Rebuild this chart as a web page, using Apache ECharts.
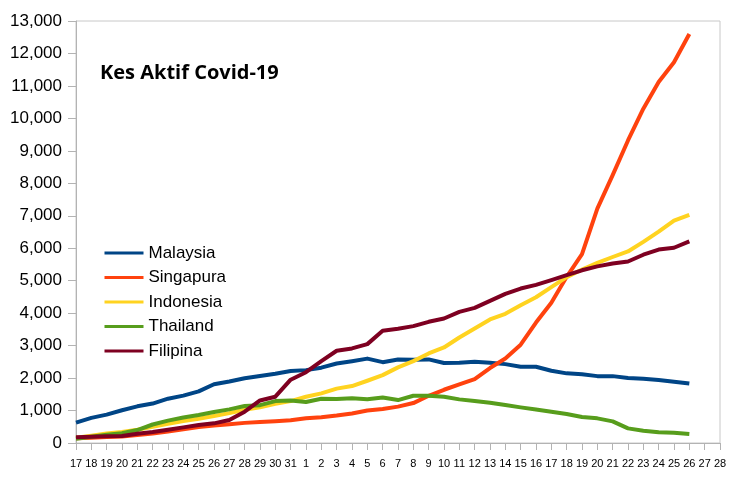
<!DOCTYPE html>
<html>
<head>
<meta charset="utf-8">
<script src="https://cdn.jsdelivr.net/npm/echarts@6/dist/echarts.min.js"></script>
<style>
html,body{margin:0;padding:0;background:#fff;}
#chart{width:745px;height:489px;}
</style>
</head>
<body>
<div id="chart"></div>
<script>
const categories = ['17','18','19','20','21','22','23','24','25','26','27','28','29','30','31',
  '1','2','3','4','5','6','7','8','9','10','11','12','13','14','15','16','17','18','19','20','21','22','23','24','25','26','27','28'];

const malaysia = [630, 775, 875, 1010, 1130, 1215, 1365, 1460, 1590, 1810, 1895, 1995, 2065, 2135, 2220,
  2245, 2320, 2450, 2520, 2600, 2490, 2575, 2565, 2575, 2465, 2470, 2500, 2470, 2430, 2350, 2350, 2225, 2145, 2120, 2060, 2060, 2000, 1980, 1940, 1890, 1830];
const singapura = [150, 165, 185, 200, 245, 290, 355, 420, 490, 540, 575, 620, 650, 670, 700,
  760, 795, 845, 910, 1000, 1045, 1120, 1230, 1455, 1640, 1805, 1970, 2310, 2605, 3030, 3710, 4320, 5120, 5815, 7220, 8250, 9320, 10300, 11120, 11730, 12600];
const indonesia = [160, 220, 290, 340, 410, 500, 590, 680, 750, 830, 920, 1025, 1097, 1210, 1292,
  1426, 1528, 1675, 1754, 1918, 2092, 2330, 2523, 2759, 2943, 3251, 3528, 3805, 3980, 4246, 4490, 4800, 5110, 5344, 5550, 5730, 5900, 6195, 6510, 6850, 7030];
const thailand = [130, 195, 255, 300, 400, 570, 690, 785, 860, 954, 1036, 1138, 1165, 1292, 1308,
  1265, 1364, 1354, 1375, 1350, 1400, 1323, 1456, 1456, 1426, 1344, 1292, 1241, 1169, 1097, 1030, 960, 892, 800, 759, 667, 451, 379, 328, 318, 277];
const filipina = [175, 190, 205, 215, 287, 338, 410, 482, 554, 605, 708, 964, 1310, 1426, 1950,
  2180, 2523, 2841, 2913, 3046, 3456, 3518, 3600, 3733, 3836, 4041, 4164, 4379, 4595, 4759, 4870, 5015, 5169, 5320, 5440, 5530, 5590, 5800, 5960, 6015, 6210];

const seriesNames = ['Malaysia','Singapura','Indonesia','Thailand','Filipina'];
const seriesData = [malaysia, singapura, indonesia, thailand, filipina];
const colors = ['#004586','#ff420e','#ffd320','#579d1c','#7e0021'];

const chart = echarts.init(document.getElementById('chart'), null, {renderer:'canvas'});
chart.setOption({
  animation: false,
  backgroundColor: '#ffffff',
  color: colors,
  title: {
    text: 'Kes Aktif Covid-19',
    left: 95, top: 58,
    textStyle: {fontFamily: 'Open Sans', fontWeight: 'bold', fontSize: 20, color: '#000'}
  },
  legend: {
    orient: 'vertical',
    left: 103, top: 244.5,
    padding: 0,
    itemWidth: 39, itemHeight: 14, itemGap: 7.5,
    data: seriesNames,
    itemStyle: {opacity: 0},
    lineStyle: {width: 3},
    textStyle: {fontFamily: 'Liberation Sans', fontSize: 17, color: '#000'}
  },
  grid: {
    left: 76, right: 25, top: 21, bottom: 46,
    show: true, borderColor: '#c8c8c8', borderWidth: 1
  },
  xAxis: {
    type: 'category',
    data: categories,
    boundaryGap: false,
    axisLine: {lineStyle: {color: '#b3b3b3', width: 1}},
    axisTick: {show: true, interval: 0, length: 7, lineStyle: {color: '#b3b3b3'}},
    axisLabel: {interval: 0, hideOverlap: false, margin: 15, fontFamily: 'Liberation Sans', fontSize: 11, color: '#000'},
    splitLine: {show: false}
  },
  yAxis: {
    type: 'value',
    min: 0, max: 13000, interval: 1000,
    axisLine: {show: true, lineStyle: {color: '#b3b3b3', width: 1}},
    axisTick: {show: true, length: 8, lineStyle: {color: '#b3b3b3'}},
    axisLabel: {
      margin: 14, fontFamily: 'Liberation Sans', fontSize: 17, color: '#000',
      formatter: v => v.toLocaleString('en-US')
    },
    splitLine: {show: false}
  },
  series: seriesNames.map((n, k) => ({
    name: n,
    type: 'line',
    data: seriesData[k],
    symbol: 'none',
    showSymbol: false,
    lineStyle: {width: 4, color: colors[k], join: 'round'},
    itemStyle: {color: colors[k]}
  }))
});
</script>
</body>
</html>
